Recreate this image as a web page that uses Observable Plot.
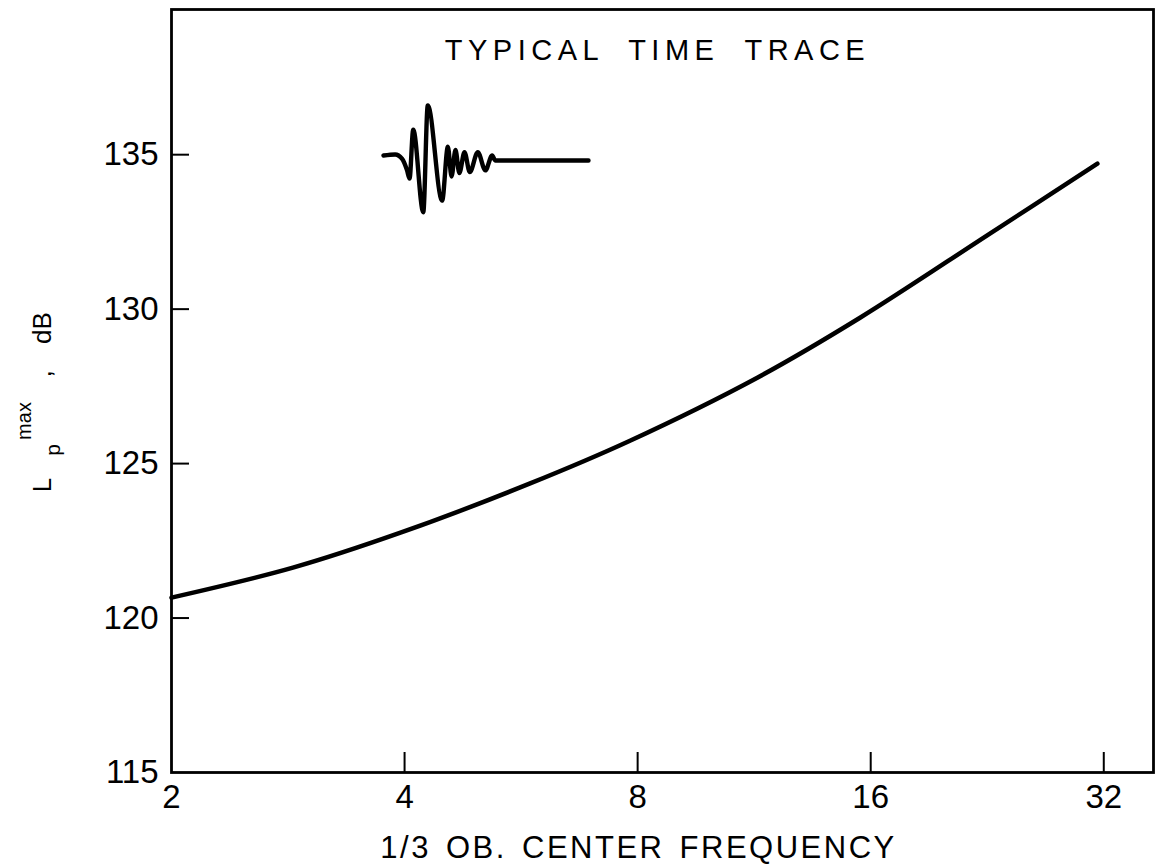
<!DOCTYPE html>
<html>
<head>
<meta charset="utf-8">
<script src="https://cdn.jsdelivr.net/npm/d3@7"></script>
<script src="https://cdn.jsdelivr.net/npm/@observablehq/plot@0.6"></script>
<style>
  body { margin: 0; background: #fff; }
  #chart { position: relative; width: 1157px; height: 868px; }
  #chart svg { overflow: visible; }
  #trace { position: absolute; left: 378px; top: 100px; }
</style>
</head>
<body>
<div id="chart"></div>
<script>
// Peak level vs 1/3-octave-band centre frequency
const freq  = [2, 2.87, 3.96, 5.8, 7.82, 11.42, 15.5, 22.6, 31.4];
const level = [120.66, 121.63, 122.77, 124.35, 125.74, 127.78, 129.72, 132.38, 134.71];

// Axis ticks
const xTicks = [2, 4, 8, 16, 32];
const yTicks = [115, 120, 125, 130, 135];

// Sketch of a typical pressure time trace (time in % of sketch length, normalised amplitude)
const traceTime = [0, 5.7, 9.1, 11.5, 12.7, 14.5, 19.4, 21.6, 28.6, 31.4, 33.2, 35.1, 37.0, 39.5, 42.1, 46.0, 49.7, 53.0, 54.6, 100];
const traceAmp  = [0.09, 0.11, 0.03, -0.18, -0.33, 0.56, -0.94, 1.0, -0.73, 0.25, -0.29, 0.19, -0.23, 0.15, -0.21, 0.15, -0.18, 0.09, 0, 0];

const titleText = "TYPICAL TIME TRACE";
const xTitle = "1/3 OB. CENTER FREQUENCY";

const curveData = freq.map((f, i) => ({f, L: level[i]}));
const traceData = traceTime.map((t, i) => ({t, a: traceAmp[i]}));

const font = "'Liberation Sans', Arial, sans-serif";

const chart = Plot.plot({
  width: 1157,
  height: 868,
  marginLeft: 171,
  marginRight: 4,
  marginTop: 9,
  marginBottom: 96,
  style: {fontFamily: font, color: "#000", background: "#fff"},
  x: {type: "log", base: 2, domain: [2, 37.1]},
  y: {domain: [115, 139.7]},
  marks: [
    Plot.frame({stroke: "#000", strokeWidth: 2.8}),
    // inward tick marks
    Plot.ruleY(yTicks.slice(1), {y: d => d, x1: 2, x2: 2, insetRight: -18, stroke: "#000", strokeWidth: 2}),
    Plot.ruleX(xTicks.slice(1), {x: d => d, y1: 115, y2: 115, insetTop: -20, stroke: "#000", strokeWidth: 2}),
    Plot.axisY(yTicks, {anchor: "left", tickSize: 0, tickPadding: 13, fontSize: 33, label: null, tickFormat: d => String(d)}),
    Plot.axisX(xTicks, {anchor: "bottom", tickSize: 0, tickPadding: 12, fontSize: 33, label: null, tickFormat: d => String(d)}),
    Plot.line(curveData, {x: "f", y: "L", curve: "catmull-rom", stroke: "#000", strokeWidth: 4.5, strokeLinecap: "round"}),
    Plot.text([titleText], {frameAnchor: "top-left", lineAnchor: "middle", dx: 486, dy: 41, textAnchor: "middle", fontSize: 29, fill: "#000"}),
    Plot.text([xTitle], {frameAnchor: "bottom", lineAnchor: "middle", dx: -24, dy: 76, fontSize: 31, fill: "#000"})
  ]
});

const root = document.getElementById("chart");
root.appendChild(chart);

const svg = d3.select(chart);
svg.selectAll("text").filter(function () { return this.textContent === titleText; })
  .style("letter-spacing", "5.5px").style("word-spacing", "12px");
svg.selectAll("text").filter(function () { return this.textContent === xTitle; })
  .style("letter-spacing", "2.5px").style("word-spacing", "4px");

// Rotated y-axis label: L_p^max , dB
const g = svg.append("g")
  .attr("transform", "translate(51,0) rotate(-90)")
  .style("font-family", font)
  .attr("fill", "#000");
const part = (txt, x, y, size) =>
  g.append("text").attr("x", x).attr("y", y).style("font-size", size + "px").text(txt);
part("L", -485, 0, 26);
part("p", -450, 9, 21);
part("max", -421, -20, 20);
part(",", -374, 0, 26);
part("dB", -328, 0, 26);

// Inset sketch of the time trace
const trace = Plot.plot({
  width: 215,
  height: 120,
  margin: 5,
  style: {background: "transparent", overflow: "visible"},
  x: {domain: [0, 100], axis: null},
  y: {domain: [-1, 1], axis: null},
  marks: [
    Plot.line(traceData, {x: "t", y: "a", curve: "monotone-x", stroke: "#000", strokeWidth: 4.4, strokeLinejoin: "round", strokeLinecap: "round"})
  ]
});
trace.id = "trace";
root.appendChild(trace);
</script>
</body>
</html>
